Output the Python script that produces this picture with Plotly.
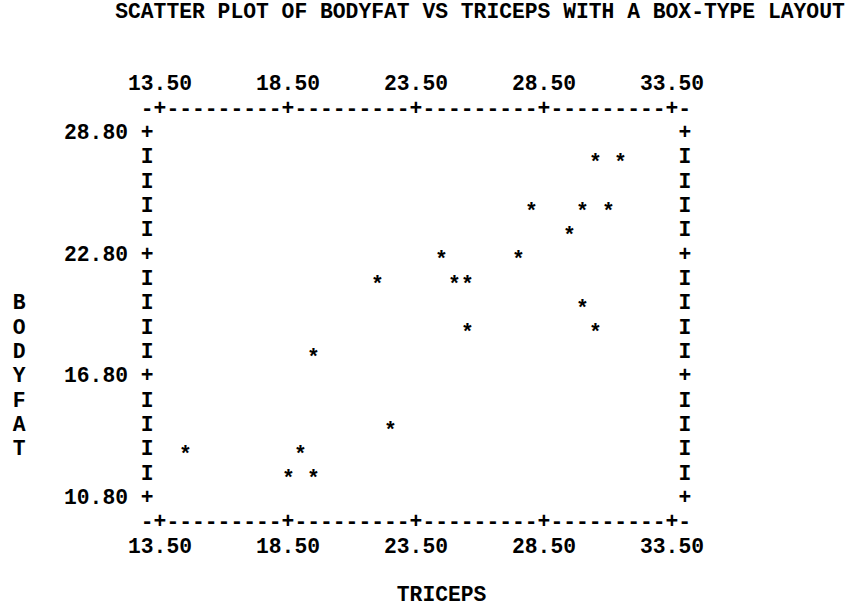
import plotly.graph_objects as go

# Body fat study: triceps skinfold thickness vs body fat, as placed on the character grid
triceps = [30.5, 31.5, 28.0, 30.0, 31.0, 29.5, 24.5, 27.5, 22.0, 25.0,
           25.5, 30.0, 25.5, 30.5, 19.5, 22.5, 14.5, 19.0, 18.5, 19.5]
bodyfat = [27.6, 27.6, 25.2, 25.2, 25.2, 24.0, 22.8, 22.8, 21.6, 21.6,
           21.6, 20.4, 19.2, 19.2, 18.0, 14.4, 13.2, 13.2, 12.0, 12.0]

x_ticks = [13.5, 18.5, 23.5, 28.5, 33.5]
y_ticks = [28.8, 22.8, 16.8, 10.8]
x_tick_labels = ["13.50", "18.50", "23.50", "28.50", "33.50"]
y_tick_labels = ["28.80", "22.80", "16.80", "10.80"]

title = "SCATTER PLOT OF BODYFAT VS TRICEPS WITH A BOX-TYPE LAYOUT"
x_label = "TRICEPS"
y_label = "BODYFAT"

# Character-grid geometry (line-printer style layout)
W, H = 846, 607
CHAR_W = 12.8          # px per character column
LINE_H = 24.33         # px per text line
FONT_PX = 21.33
TICK_COL = 12          # column of the first x tick
TICK_LINE = 5          # line of the top y tick
SUBROWS = 5            # lines between y ticks
SUBCOLS = 10           # columns between x ticks
STAR_DROP = 5          # px: the '*' glyph sits high in its cell

dx = (x_ticks[1] - x_ticks[0]) / SUBCOLS     # data units per column
dy = (y_ticks[0] - y_ticks[1]) / SUBROWS     # data units per line


def col_to_x(c):
    return x_ticks[0] + dx * (c - TICK_COL)


def line_to_y(n):
    return y_ticks[0] - dy * (n - TICK_LINE)


x_range = [col_to_x(-0.5), col_to_x(W / CHAR_W - 0.5)]
y_range = [line_to_y(H / LINE_H - 0.5), line_to_y(-0.5)]

FONT = dict(family="Courier New, Liberation Mono, monospace", size=FONT_PX,
            color="black", weight="bold")

fig = go.Figure()

# Left and right frame: '+' at tick lines, 'I' between them
n_lines = SUBROWS * (len(y_ticks) - 1) + 1
frame_y = [line_to_y(TICK_LINE + k) for k in range(n_lines)]
frame_ch = ["+" if k % SUBROWS == 0 else "I" for k in range(n_lines)]
for side_x in (x_ticks[0] - dx, x_ticks[-1] + dx):
    fig.add_trace(go.Scatter(x=[side_x] * n_lines, y=frame_y, text=frame_ch,
                             mode="text", textposition="middle center",
                             textfont=FONT, hoverinfo="skip", showlegend=False))

# Top and bottom frame strings
axis_str = "-" + "+".join(["-" * (SUBCOLS - 1)] * (len(x_ticks) - 1)).join(["+", "+"]) + "-"
x_mid = (x_ticks[0] + x_ticks[-1]) / 2
top_y = y_ticks[0] + dy
bot_y = y_ticks[-1] - dy
for yy in (top_y, bot_y):
    fig.add_trace(go.Scatter(x=[x_mid], y=[yy], text=[axis_str], mode="text",
                             textposition="middle center", textfont=FONT,
                             hoverinfo="skip", showlegend=False))

# X tick labels above and below the frame
for yy in (top_y + dy, bot_y - dy):
    fig.add_trace(go.Scatter(x=x_ticks, y=[yy] * len(x_ticks), text=x_tick_labels,
                             mode="text", textposition="middle center", textfont=FONT,
                             hoverinfo="skip", showlegend=False))

# Y tick labels, right-aligned two columns left of the frame
fig.add_trace(go.Scatter(x=[col_to_x(TICK_COL - 5)] * len(y_ticks), y=y_ticks,
                         text=y_tick_labels, mode="text", textposition="middle center",
                         textfont=FONT, hoverinfo="skip", showlegend=False))

# Vertical y-axis label, one letter per line
lab_start = TICK_LINE + 7
fig.add_trace(go.Scatter(x=[col_to_x(1)] * len(y_label),
                         y=[line_to_y(lab_start + i) for i in range(len(y_label))],
                         text=list(y_label), mode="text", textposition="middle center",
                         textfont=FONT, hoverinfo="skip", showlegend=False))

# Data points: invisible hover carrier plus a '*' glyph at each (x, y)
fig.add_trace(go.Scatter(x=triceps, y=bodyfat, mode="markers",
                         marker=dict(size=10, opacity=0),
                         hovertemplate="TRICEPS %{x}<br>BODYFAT %{y}<extra></extra>",
                         showlegend=False))
for tx, bf in zip(triceps, bodyfat):
    fig.add_annotation(x=tx, y=bf, xref="x", yref="y", text="*", showarrow=False,
                       yshift=-STAR_DROP, font=FONT)

# Title and x-axis label
fig.add_trace(go.Scatter(x=[col_to_x(37)], y=[line_to_y(0)], text=[title], mode="text",
                         textposition="middle center", textfont=FONT,
                         hoverinfo="skip", showlegend=False))
fig.add_trace(go.Scatter(x=[col_to_x(34)], y=[line_to_y(24)], text=[x_label], mode="text",
                         textposition="middle center", textfont=FONT,
                         hoverinfo="skip", showlegend=False))

fig.update_layout(
    width=W, height=H, autosize=False,
    margin=dict(l=0, r=0, t=0, b=0, pad=0),
    paper_bgcolor="white", plot_bgcolor="white",
    xaxis=dict(range=x_range, visible=False, fixedrange=True),
    yaxis=dict(range=y_range, visible=False, fixedrange=True),
)

fig.write_html("out.html", config={"displayModeBar": False})
